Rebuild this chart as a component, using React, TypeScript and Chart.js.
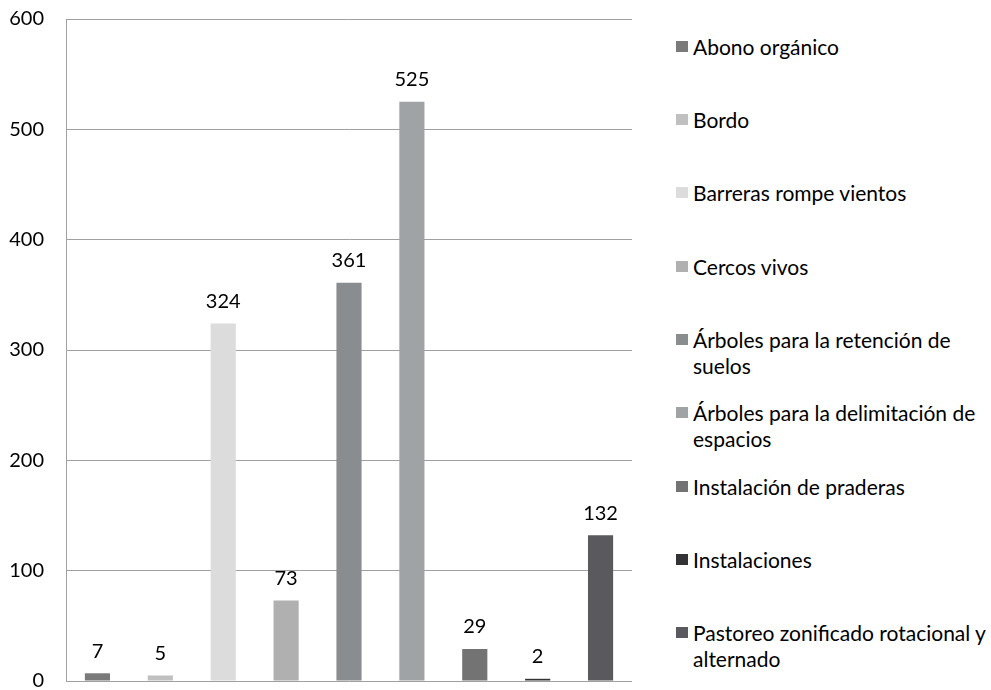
import React, { useEffect, useRef } from "react";
import { Chart, registerables } from "chart.js";

Chart.register(...registerables);

const categories: string[][] = [
  ["Abono orgánico"],
  ["Bordo"],
  ["Barreras rompe vientos"],
  ["Cercos vivos"],
  ["Árboles para la retención de", "suelos"],
  ["Árboles para la delimitación de", "espacios"],
  ["Instalación de praderas"],
  ["Instalaciones"],
  ["Pastoreo zonificado rotacional y", "alternado"],
];
const values: number[] = [7, 5, 324, 73, 361, 525, 29, 2, 132];
const colors: string[] = [
  "#7a7a7a",
  "#c0c0c0",
  "#dcdcdc",
  "#b0b0b0",
  "#8a8d8f",
  "#a0a3a5",
  "#737373",
  "#333336",
  "#5a5a5e",
];
const yTicks = { min: 0, max: 600, step: 100 };

const FONT = "Lato, 'Open Sans', sans-serif";

const valueLabels = {
  id: "valueLabels",
  afterDatasetsDraw(chart: any) {
    const ctx = chart.ctx;
    const meta = chart.getDatasetMeta(0);
    ctx.save();
    ctx.font = `20px ${FONT}`;
    ctx.fillStyle = "#000";
    ctx.textAlign = "center";
    ctx.textBaseline = "middle";
    meta.data.forEach((bar: any, i: number) => {
      ctx.fillText(String(values[i]), bar.x, bar.y - 22);
    });
    ctx.restore();
  },
};

export default function App() {
  const ref = useRef<HTMLCanvasElement | null>(null);
  useEffect(() => {
    if (!ref.current) return;
    const chart = new Chart(ref.current, {
      type: "bar",
      data: {
        labels: categories.map((c) => c.join(" ")),
        datasets: [
          {
            data: values,
            backgroundColor: colors,
            borderWidth: 0,
            categoryPercentage: 1,
            barPercentage: 0.4,
          },
        ],
      },
      options: {
        animation: false,
        responsive: false,
        maintainAspectRatio: false,
        layout: { padding: { left: 0, top: 19, right: 8, bottom: 9 } },
        plugins: { legend: { display: false }, tooltip: { enabled: false } },
        scales: {
          x: { display: false },
          y: {
            min: yTicks.min,
            max: yTicks.max,
            ticks: {
              stepSize: yTicks.step,
              color: "#000",
              font: { family: FONT, size: 20 },
              padding: 22,
            },
            grid: { color: "#a0a0a0", lineWidth: 1, drawTicks: false },
            border: { display: true, color: "#a0a0a0", width: 1 },
            afterFit(scale: any) {
              scale.width = 66;
              scale.paddingBottom = 0;
              scale.paddingTop = 0;
            },
          },
        },
      },
      plugins: [valueLabels],
    });
    return () => chart.destroy();
  }, []);

  return (
    <div
      style={{
        position: "fixed",
        left: 0,
        top: 0,
        width: 991,
        height: 690,
        background: "#fff",
        fontFamily: FONT,
      }}
    >
      <canvas
        ref={ref}
        width={640}
        height={690}
        style={{ position: "absolute", left: 0, top: 0, width: 640, height: 690 }}
      />
      {categories.map((lines, i) => (
        <div
          key={i}
          style={{
            position: "absolute",
            left: 676,
            top: 46.7 + 73.3 * i - 13,
            display: "flex",
            alignItems: "flex-start",
          }}
        >
          <span
            style={{
              display: "inline-block",
              width: 12,
              height: 11,
              marginTop: 7,
              marginRight: 5,
              background: colors[i],
            }}
          />
          <span style={{ fontSize: 21, lineHeight: "26px", color: "#000" }}>
            {lines.map((l, j) => (
              <div key={j} style={{ whiteSpace: "nowrap" }}>{l}</div>
            ))}
          </span>
        </div>
      ))}
    </div>
  );
}
